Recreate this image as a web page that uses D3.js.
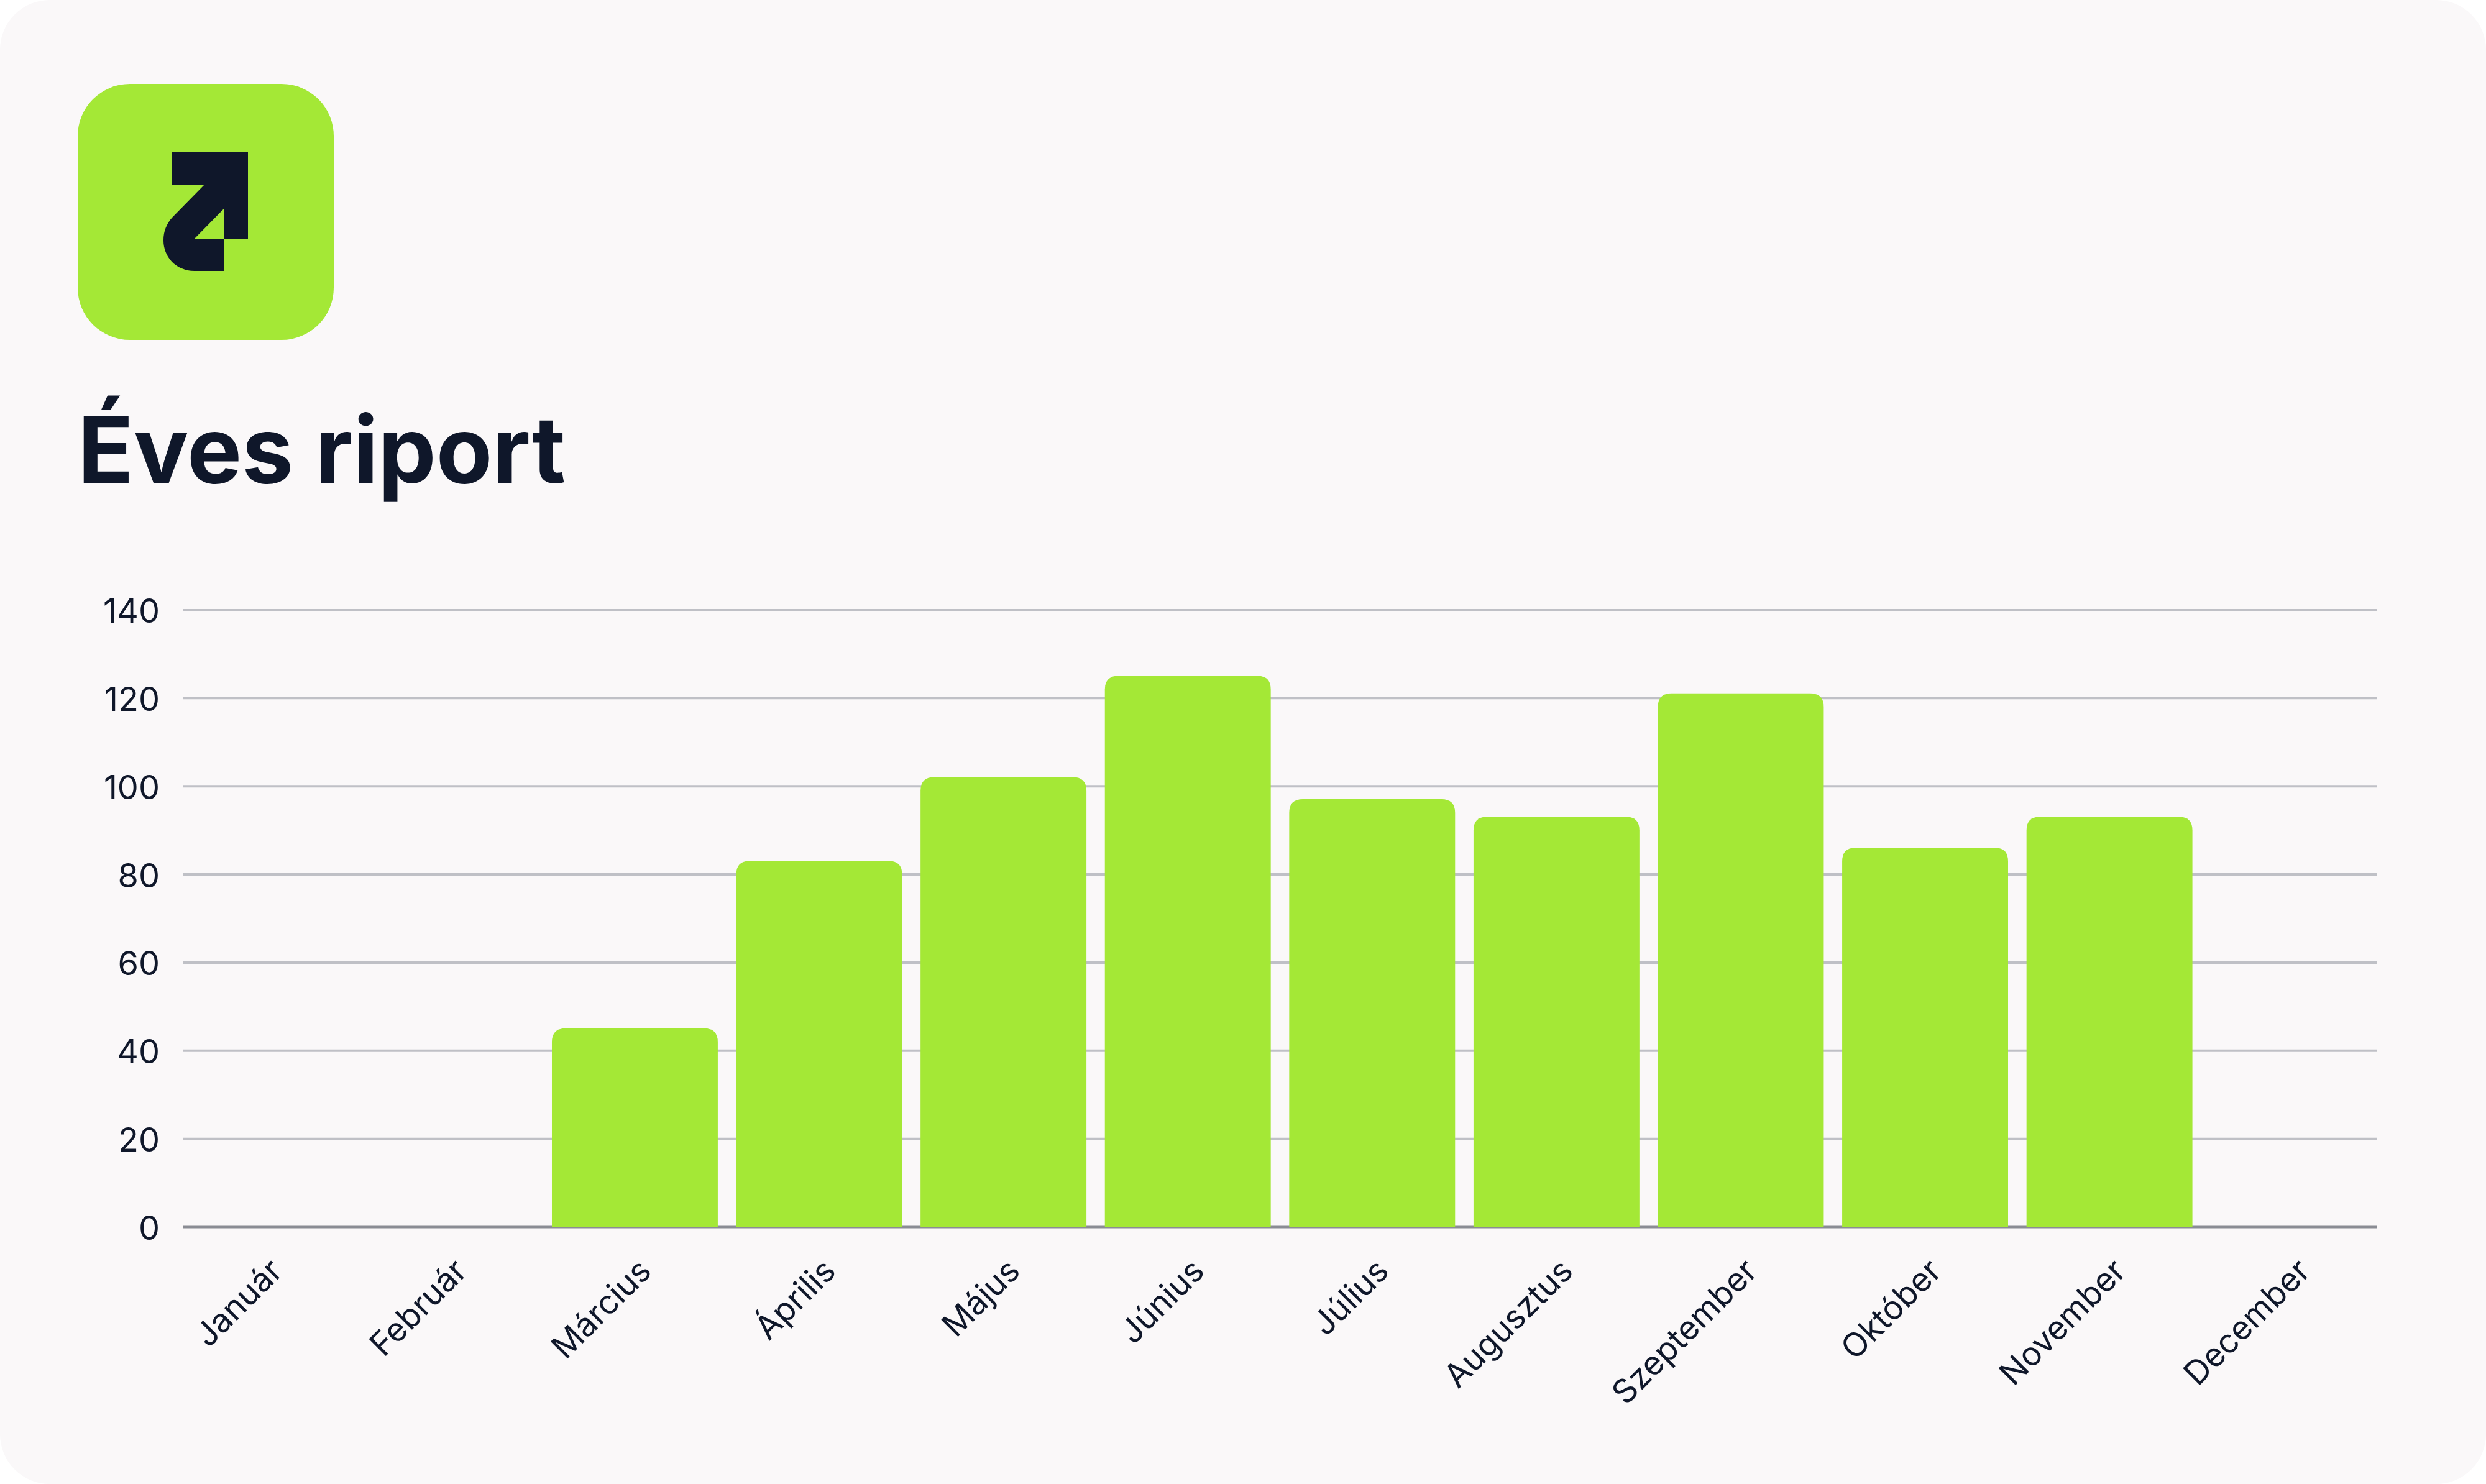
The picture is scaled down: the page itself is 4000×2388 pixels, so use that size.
<!DOCTYPE html>
<html>
<head>
<meta charset="utf-8">
<script src="https://cdn.jsdelivr.net/npm/d3@7"></script>
<style>
  html, body { margin: 0; padding: 0; background: #ffffff; }
  svg { display: block; }
  text { font-family: Inter, sans-serif; }
</style>
</head>
<body>
<div id="my_dataviz"></div>
<script>
var months = ["Január", "Február", "Március", "Április", "Május", "Június", "Július", "Augusztus", "Szeptember", "Október", "November", "December"];
var reports = [0, 0, 45, 83, 102, 125, 97, 93, 121, 86, 93, 0];
var yTicks = [0, 20, 40, 60, 80, 100, 120, 140];
var title = "Éves riport";

var green = "#a4e836", ink = "#0f172a", paper = "#faf8f9";

var svg = d3.select("#my_dataviz")
  .append("svg")
    .attr("width", 4000)
    .attr("height", 2388);

// card
svg.append("rect")
  .attr("width", 4000)
  .attr("height", 2388)
  .attr("rx", 80)
  .attr("fill", paper);

// logo
svg.append("rect")
  .attr("x", 125)
  .attr("y", 135)
  .attr("width", 412)
  .attr("height", 412)
  .attr("rx", 84)
  .attr("fill", green);
svg.append("path")
  .attr("fill", ink)
  .attr("fill-rule", "evenodd")
  .attr("d", "M277 245H399V384H360V436H313C282 436 263 412 263 387C263 372 268 360 277 350" +
             "L329 297H277Z M360 336L312 385H360Z");

svg.append("text")
  .attr("x", 125)
  .attr("y", 777)
  .attr("fill", ink)
  .style("font-size", "148px")
  .style("font-weight", 700)
  .text(title);

// scales
var x = d3.scaleBand()
  .domain(months)
  .range([280, 3839])
  .paddingInner(0.1)
  .paddingOuter(0.05);

var y = d3.scaleLinear()
  .domain([0, 140])
  .range([1974, 981]);

// grid + y labels
var yAxis = svg.append("g")
  .attr("transform", "translate(295,0)")
  .call(d3.axisLeft(y).tickValues(yTicks).tickSize(-3530).tickPadding(38));
yAxis.select(".domain").remove();
yAxis.selectAll("line")
  .attr("stroke", function(d) { return d === 0 ? "#8a8c94" : "#bfc0c6"; })
  .attr("stroke-width", function(d) { return d === 140 ? 3 : 4; });
yAxis.selectAll("text")
  .attr("fill", ink)
  .attr("dy", "0.38em")
  .style("font-size", "54px");

// bars, rounded on top only
var r = 22;
svg.selectAll("mybar")
  .data(months.map(function(m, i) { return {x: m, y: reports[i]}; }).filter(function(d) { return d.y > 0; }))
  .enter()
  .append("path")
    .attr("fill", green)
    .attr("d", function(d) {
      var x0 = x(d.x), x1 = x0 + x.bandwidth(), top = y(d.y), base = y(0) + 1;
      return "M" + x0 + "," + base + "V" + (top + r) +
        "Q" + x0 + "," + top + " " + (x0 + r) + "," + top +
        "H" + (x1 - r) +
        "Q" + x1 + "," + top + " " + x1 + "," + (top + r) +
        "V" + base + "Z";
    });

// x labels
var xAxis = svg.append("g")
  .attr("transform", "translate(0,1974)")
  .call(d3.axisBottom(x).tickSize(0));
xAxis.select(".domain").remove();
xAxis.selectAll("text")
  .attr("fill", ink)
  .attr("y", 0)
  .attr("dy", 0)
  .attr("transform", "translate(16,61)rotate(-45)")
  .style("text-anchor", "end")
  .style("dominant-baseline", "central")
  .style("font-size", "53px");
</script>
</body>
</html>
